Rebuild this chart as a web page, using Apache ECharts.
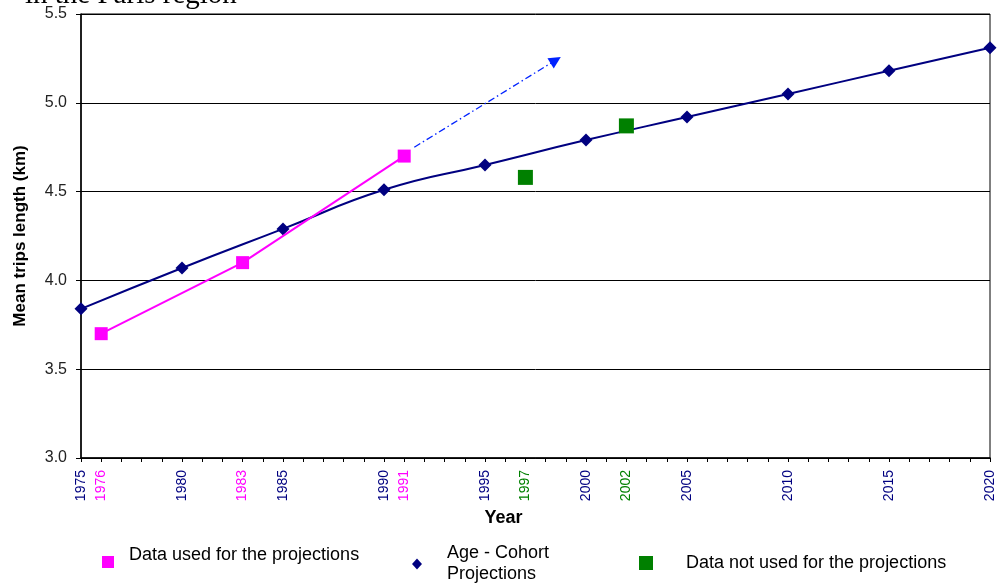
<!DOCTYPE html>
<html>
<head>
<meta charset="utf-8">
<script src="https://cdn.jsdelivr.net/npm/echarts@6/dist/echarts.min.js"></script>
<style>html,body{margin:0;padding:0;background:#fff;}#c{width:998px;height:585px;}</style>
</head>
<body>
<div id="c"></div>
<script>
// Data
const cohortYears = [1975, 1980, 1985, 1990, 1995, 2000, 2005, 2010, 2015, 2020];
const cohortValues = [3.84, 4.07, 4.29, 4.51, 4.65, 4.79, 4.92, 5.05, 5.18, 5.31];
const usedYears = [1976, 1983, 1991];
const usedValues = [3.70, 4.10, 4.70];
const notUsedYears = [1997, 2002];
const notUsedValues = [4.58, 4.87];
const arrowStart = [1991.5, 4.75];
const arrowEnd = [1998.5, 5.24];
const navyLabelYears = [1975, 1980, 1985, 1990, 1995, 2000, 2005, 2010, 2015, 2020];
const magentaLabelYears = [1976, 1983, 1991];
const greenLabelYears = [1997, 2002];
const NAME_USED = 'Data used for the projections';
const NAME_COHORT = 'Age - Cohort\nProjections';
const NAME_NOT = 'Data not used for the projections';

const NAVY = '#000080', MAGENTA = '#ff00ff', GREEN = '#008000';
const FONT = 'Arial, "Liberation Sans"';
const zip = (a, b) => a.map((x, i) => [x, b[i]]);

const chart = echarts.init(document.getElementById('c'), null, {renderer: 'canvas'});
chart.setOption({
  animation: false,
  backgroundColor: '#fff',
  graphic: [{
    type: 'text', x: 25, y: -5, z: 0,
    style: {text: 'in the Paris region', font: '29px "Liberation Serif"', fill: '#000', verticalAlign: 'middle'}
  }],
  grid: {left: 81, right: 8, top: 14, bottom: 127, show: true, borderColor: '#000', borderWidth: 1},
  xAxis: {
    type: 'value', min: 1975, max: 2020, interval: 1,
    name: 'Year', nameLocation: 'middle', nameGap: 51,
    nameTextStyle: {fontFamily: FONT, fontWeight: 'bold', fontSize: 18, color: '#000', padding: [0, 64, 0, 0]},
    axisLine: {lineStyle: {color: '#000', width: 1.5}},
    axisTick: {show: true, length: 4, lineStyle: {color: '#000'}},
    splitLine: {show: false},
    axisLabel: {
      rotate: 90, margin: 12, fontFamily: FONT, fontSize: 14,
      formatter: function (v) {
        if (navyLabelYears.includes(v)) return '{n|' + v + '}';
        if (magentaLabelYears.includes(v)) return '{m|' + v + '}';
        if (greenLabelYears.includes(v)) return '{g|' + v + '}';
        return '';
      },
      rich: {
        n: {color: NAVY, fontSize: 14, fontFamily: FONT},
        m: {color: MAGENTA, fontSize: 14, fontFamily: FONT},
        g: {color: GREEN, fontSize: 14, fontFamily: FONT}
      }
    }
  },
  yAxis: {
    type: 'value', min: 3, max: 5.5, interval: 0.5,
    name: 'Mean trips length (km)', nameLocation: 'middle', nameGap: 52,
    nameTextStyle: {fontFamily: FONT, fontWeight: 'bold', fontSize: 17, color: '#000'},
    axisLine: {show: true, lineStyle: {color: '#000', width: 1.5}},
    axisTick: {show: true, length: 5, lineStyle: {color: '#000'}},
    splitLine: {show: true, lineStyle: {color: '#000', width: 1}},
    axisLabel: {color: '#222', fontSize: 16, fontFamily: FONT, margin: 14,
      formatter: v => v.toFixed(1)}
  },
  legend: [
    {data: [{name: NAME_USED, icon: 'rect'}], left: 97, top: 541, itemWidth: 12, itemHeight: 12,
     formatter: n => n + '\n ',
     textStyle: {fontFamily: FONT, fontSize: 18, color: '#000', lineHeight: 14, padding: [0, 0, 0, 10]}},
    {data: [{name: NAME_COHORT, icon: 'diamond'}], left: 407, top: 538, itemWidth: 10, itemHeight: 11,
     textStyle: {fontFamily: FONT, fontSize: 18, color: '#000', lineHeight: 21, padding: [0, 0, 0, 20]}},
    {data: [{name: NAME_NOT, icon: 'rect'}], left: 634, top: 549, itemWidth: 14, itemHeight: 14,
     textStyle: {fontFamily: FONT, fontSize: 18, color: '#000', padding: [0, 0, 0, 28]}}
  ],
  series: [
    {
      name: NAME_COHORT, type: 'line', smooth: 0.5,
      data: zip(cohortYears, cohortValues),
      symbol: 'diamond', symbolSize: 13,
      itemStyle: {color: NAVY, opacity: 1}, lineStyle: {color: NAVY, width: 2},
      z: 3
    },
    {
      name: NAME_USED, type: 'line',
      data: zip(usedYears, usedValues),
      symbol: 'rect', symbolSize: 13,
      itemStyle: {color: MAGENTA, opacity: 1}, lineStyle: {color: MAGENTA, width: 2},
      z: 4,
      markLine: {
        silent: true, symbol: ['none', 'triangle'], symbolSize: [12, 12],
        label: {show: false},
        itemStyle: {color: '#0022ff', opacity: 1},
        lineStyle: {color: '#0022ff', width: 1.3, opacity: 1, type: [7, 3, 1.5, 3]},
        data: [[{coord: arrowStart}, {coord: arrowEnd}]]
      }
    },
    {
      name: NAME_NOT, type: 'scatter',
      data: zip(notUsedYears, notUsedValues),
      symbol: 'rect', symbolSize: 15,
      itemStyle: {color: GREEN, opacity: 1},
      z: 4
    }
  ]
});
</script>
</body>
</html>
